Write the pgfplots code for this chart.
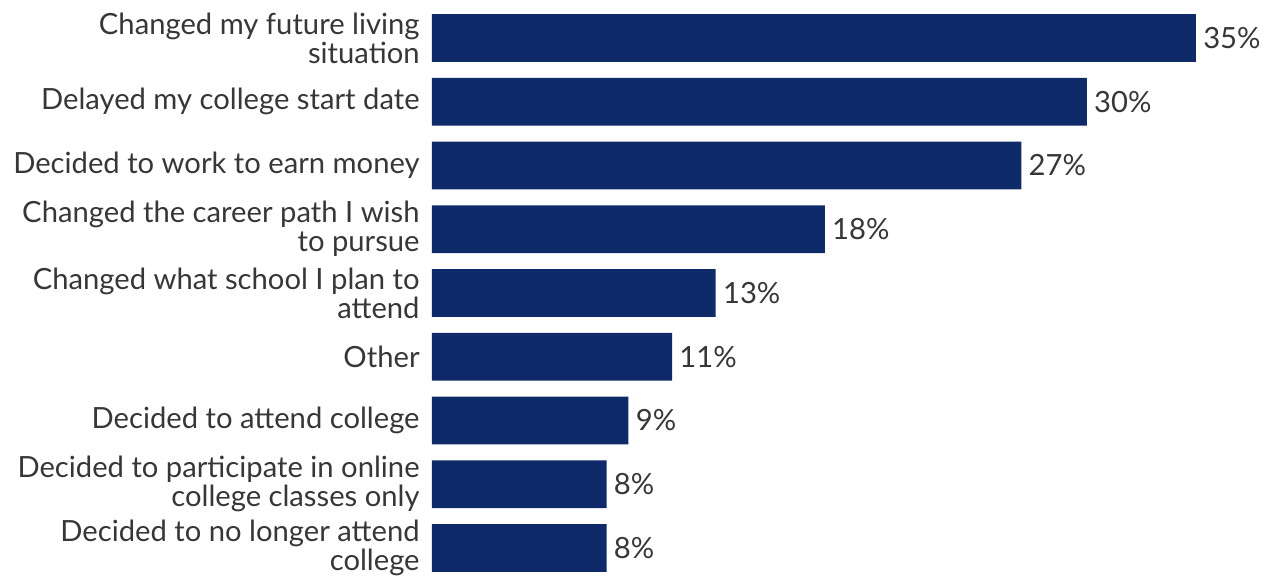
\documentclass[border=0pt]{standalone}
\usepackage{pgfplots}
\pgfplotsset{compat=1.18}
\usepackage{fontspec}
\setmainfont{Lato}
\definecolor{navy}{RGB}{14,42,104}
\definecolor{txt}{RGB}{55,55,55}
\begin{document}
\begin{tikzpicture}
\begin{axis}[
  name=ax,
  scale only axis,
  width=424.5pt, height=288pt,
  xbar, bar width=0.75,
  xmin=0, xmax=38.9,
  ymin=-0.596, ymax=8.44,
  y dir=reverse,
  axis line style={draw=none},
  xtick=\empty,
  ytick={0,...,8},
  yticklabels={{Changed my future living\\situation},
    {Delayed my college start date},
    {Decided to work to earn money},
    {Changed the career path I wish\\to pursue},
    {Changed what school I plan to\\attend},
    {Other},
    {Decided to attend college},
    {Decided to participate in online\\college classes only},
    {Decided to no longer attend\\college}},
  major tick length=0pt,
  /pgf/number format/assume math mode=true,
  y tick label style={align=right, font=\fontsize{14.6}{14.5}\selectfont, text=txt, inner sep=0pt, xshift=-6pt},
  nodes near coords={\pgfmathprintnumber{\pgfplotspointmeta}\%},
  nodes near coords style={font=\fontsize{14.6}{14.5}\selectfont, text=txt, anchor=west, inner sep=0pt, xshift=3.5pt},
  clip=false,
]
\addplot[fill=navy, draw=none] coordinates {
(35,0) (30,1) (27,2) (18,3) (13,4) (11,5) (9,6) (8,7) (8,8)};
\end{axis}
\pgfresetboundingbox
\path[use as bounding box] ([xshift=-216pt]ax.south west) rectangle (ax.north east);
\end{tikzpicture}
\end{document}
